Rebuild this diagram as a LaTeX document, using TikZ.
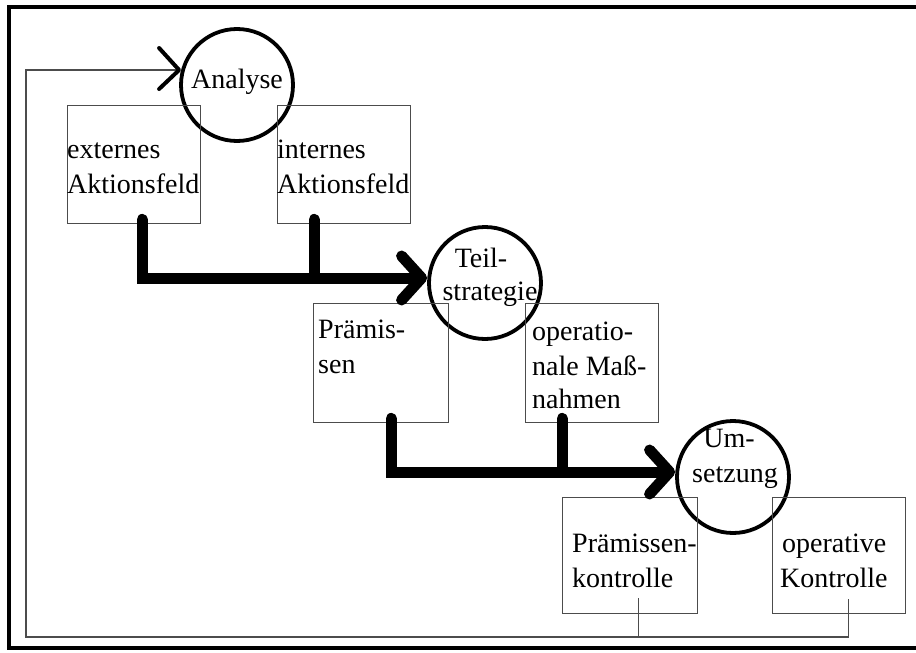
\documentclass[tikz,border=0pt]{standalone}
\usepackage{fontspec}
\setmainfont{Liberation Serif}
\usetikzlibrary{arrows.meta}
\begin{document}
\begin{tikzpicture}[x=1pt,y=-1pt,
  box/.style={draw=black!70, line width=1.4pt, inner sep=0pt, anchor=north west},
  stage/.style={draw, circle, line width=3.8pt, minimum size=112pt, inner sep=0pt},
  lbl/.style={font=\fontsize{28}{34}\selectfont, inner sep=0pt, anchor=base west},
  clbl/.style={font=\fontsize{28}{34}\selectfont, inner sep=0pt, anchor=base},
  flow/.style={line width=11pt, line cap=round, -{Straight Barb[length=20pt,width=44pt,round]}},
  branch/.style={line width=11pt, line cap=round},
  feed/.style={draw=black!70, line width=1.4pt},
  feedhead/.style={draw=black, line width=4pt, line cap=round, line join=round},
  frame/.style={line width=4pt}]
\useasboundingbox (0,0) rectangle (916,653);
\fill[white] (0,0) rectangle (916,653);

% outer frame
\draw[frame] (920,7) -- (9,7) -- (9,648) -- (920,648);

% stages
\node[stage] (ana)  at (237,85)  {};
\node[stage] (teil) at (485,283) {};
\node[stage] (ums)  at (733,477) {};

% boxes
\node[box, minimum width=133pt, minimum height=118pt] (ext) at (67,105)  {};
\node[box, minimum width=133pt, minimum height=118pt] (int) at (277,105) {};
\node[box, minimum width=135pt, minimum height=119pt] (pra) at (313,303) {};
\node[box, minimum width=133pt, minimum height=119pt] (opm) at (525,303) {};
\node[box, minimum width=135pt, minimum height=116pt] (pk)  at (562,497) {};
\node[box, minimum width=133pt, minimum height=116pt] (ok)  at (772,497) {};

% labels
\node[clbl] (lana) at (237,88) {Analyse};
\node[lbl] (lext1) at (67,158) {externes};
\node[lbl] (lext2) at (67,193) {Aktionsfeld};
\node[lbl] (lint1) at (277,158) {internes};
\node[lbl] (lint2) at (277,193) {Aktionsfeld};
\node[clbl] (lteil1) at (481,267) {Teil-};
\node[clbl] (lteil2) at (490,300) {strategie};
\node[lbl] (lpra1) at (318,338) {Prämis-};
\node[lbl] (lpra2) at (318,373) {sen};
\node[lbl] (lopm1) at (532,340) {operatio-};
\node[lbl] (lopm2) at (532,375) {nale Maß-};
\node[lbl] (lopm3) at (532,408) {nahmen};
\node[clbl] (lums1) at (729,447) {Um-};
\node[clbl] (lums2) at (735,482) {setzung};
\node[lbl] (lpk1) at (572,552) {Prämissen-};
\node[lbl] (lpk2) at (572,587) {kontrolle};
\node[lbl] (lok1) at (782,552) {operative};
\node[lbl] (lok2) at (780,587) {Kontrolle};

% main flow: analysis -> partial strategy -> implementation
\coordinate (h1) at ([yshift=5pt]teil.west);
\draw[flow] ([xshift=8pt,yshift=5pt]ext.south) |- (h1);
\coordinate (b1) at ([xshift=-30pt,yshift=5pt]int.south);
\draw[branch] (b1) -- (b1 |- h1);

\coordinate (h2) at ([yshift=5pt]ums.west);
\draw[flow] ([xshift=10pt,yshift=5pt]pra.south) |- (h2);
\coordinate (b2) at ([xshift=-30pt,yshift=5pt]opm.south);
\draw[branch] (b2) -- (b2 |- h2);

% feedback loop from the controls back to the analysis
\coordinate (fb) at (26,637);
\coordinate (fbtip) at ([yshift=15pt]ana.west);
\coordinate (okt) at ([xshift=9.5pt,yshift=15pt]ok.south);
\coordinate (pkt) at ([xshift=8.5pt,yshift=16pt]pk.south);
\draw[feed] (pkt) -- (pkt |- fb);
\draw[feed] (okt) |- (fb) |- (fbtip);
\draw[feedhead] ([shift={(-20pt,22pt)}]fbtip) -- (fbtip) -- ([shift={(-20pt,-19pt)}]fbtip);
\end{tikzpicture}
\end{document}
